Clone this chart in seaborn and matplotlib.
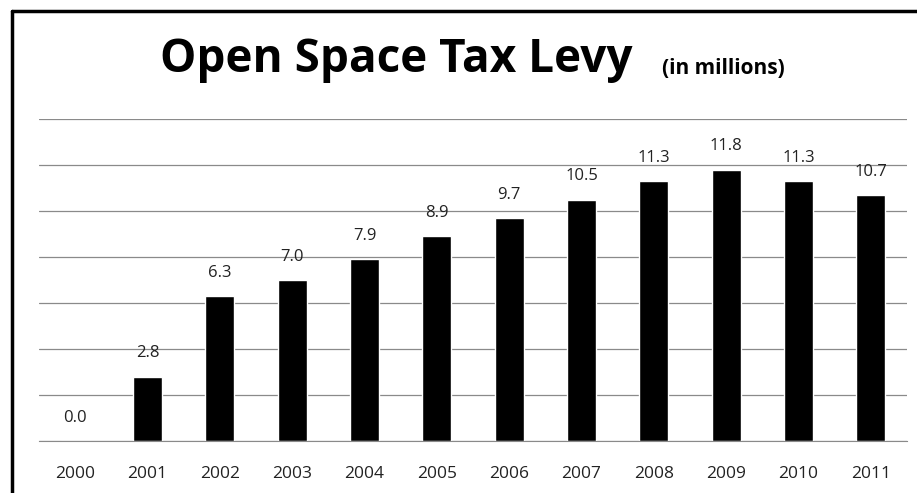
import pandas as pd
import seaborn as sns
import matplotlib.pyplot as plt
from matplotlib.lines import Line2D
from matplotlib.ticker import MultipleLocator

# values in millions
years = ['2000', '2001', '2002', '2003', '2004', '2005',
         '2006', '2007', '2008', '2009', '2010', '2011']
levy = [0.0, 2.8, 6.3, 7.0, 7.9, 8.9, 9.7, 10.5, 11.3, 11.8, 11.3, 10.7]

sns.set_style("white")
plt.rcParams['font.family'] = ['Open Sans', 'DejaVu Sans']


def main():
	df = pd.DataFrame({'year': years, 'levy': levy})

	fig = plt.figure(figsize=(9.17, 4.93), dpi=100)
	ax = fig.add_axes([0.0425, 0.1055, 0.9466, 0.653])

	sns.barplot(x='year', y='levy', data=df, color='black', saturation=1,
	            width=0.4, ax=ax)

	ax.set_ylim(0, 14)
	ax.set_xlim(-0.5, len(years) - 0.5)
	ax.yaxis.set_major_locator(MultipleLocator(2))
	ax.grid(axis='y', color='#8a8a8a', linewidth=0.9)
	ax.set_axisbelow(True)
	ax.set_yticklabels([])
	ax.tick_params(axis='y', length=0)
	ax.set_xlabel('')
	ax.set_ylabel('')
	for side in ['top', 'right', 'left']:
		ax.spines[side].set_visible(False)
	ax.spines['bottom'].set_color('#8a8a8a')

	# small ticks between categories, labels centred under bars
	ax.set_xticks([i - 0.5 for i in range(len(years) + 1)], minor=True)
	ax.tick_params(axis='x', which='minor', length=5, color='#8a8a8a', width=0.9)
	ax.tick_params(axis='x', which='major', length=0, pad=18,
	               labelsize=12.5, labelcolor='#222222')

	ax.bar_label(ax.containers[0], fmt='%.1f', padding=11,
	             fontsize=12, color='#222222')

	fig.text(160 / 917, 1 - 72 / 493, 'Open Space Tax Levy', fontsize=33,
	         fontweight='bold', ha='left', va='baseline', color='black')
	fig.text(662 / 917, 1 - 74 / 493, '(in millions)', fontsize=15,
	         fontweight='bold', ha='left', va='baseline', color='black')

	# frame around the picture (cut off at right and bottom)
	x0 = 12 / 917
	y0 = 1 - 11 / 493
	fig.add_artist(Line2D([x0, x0], [-0.1, y0], transform=fig.transFigure,
	                      color='black', linewidth=2.5))
	fig.add_artist(Line2D([x0, 1.1], [y0, y0], transform=fig.transFigure,
	                      color='black', linewidth=2.5))

	plt.savefig('out.png', dpi=100)


if __name__ == '__main__':
	main()
